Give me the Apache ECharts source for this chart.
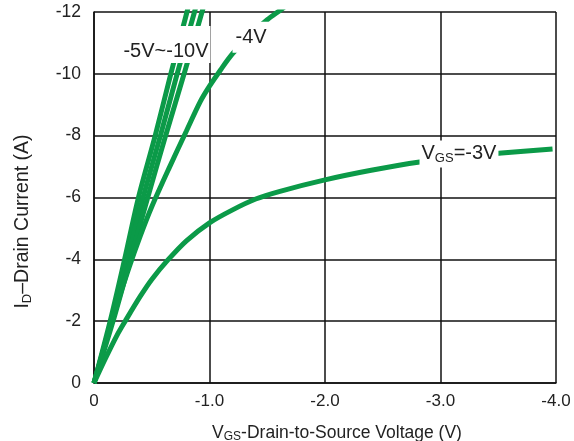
<!DOCTYPE html>
<html><head><meta charset="utf-8">
<script src="https://cdn.jsdelivr.net/npm/echarts@6/dist/echarts.min.js"></script>
<style>html,body{margin:0;padding:0;background:#fff}#c{width:574px;height:441px}</style>
</head><body><div id="c"></div>
<script>
// Output characteristics: [V_DS (V), I_D (A)]
const vgs10 = [[0,0],[-0.14,-2],[-0.265,-4],[-0.385,-6],[-0.53,-8],[-0.665,-10],[-0.805,-12],[-0.83,-12.4]];
const vgs7  = [[0,0],[-0.15,-2],[-0.29,-4],[-0.425,-6],[-0.575,-8],[-0.72,-10],[-0.87,-12],[-0.9,-12.4]];
const vgs5  = [[0,0],[-0.165,-2],[-0.315,-4],[-0.465,-6],[-0.62,-8],[-0.78,-10],[-0.935,-12],[-0.965,-12.4]];
const vgs4  = [[0,0],[-0.1,-1.3],[-0.2,-2.55],[-0.3,-3.7],[-0.4,-4.75],[-0.5,-5.7],[-0.65,-6.95],[-0.8,-8.15],[-0.92,-9.1],[-1.0,-9.6],[-1.1,-10.15],[-1.2,-10.65],[-1.35,-11.25],[-1.5,-11.75],[-1.61,-12.05],[-1.7,-12.3]];
const vgs3  = [[0,0],[-0.1,-0.8],[-0.2,-1.55],[-0.27,-2.0],[-0.4,-2.8],[-0.5,-3.35],[-0.64,-3.98],[-0.8,-4.6],[-1.0,-5.18],[-1.2,-5.6],[-1.4,-5.95],[-1.61,-6.2],[-2.0,-6.57],[-2.4,-6.88],[-2.82,-7.15],[-3.2,-7.32],[-3.53,-7.44],[-3.97,-7.57]];

const curveLabels = ['-5V~-10V', '-4V', 'V{s|GS}=-3V'];
const labelX = [-0.623, -1.36, -3.16];
const labelY = [-10.95, -11.18, -7.41];

const green = '#0b9a48';
const font = "'Liberation Sans', Arial, sans-serif";
const chart = echarts.init(document.getElementById('c'), null, {renderer: 'canvas'});

function curve(name, data) {
  return {
    name, type: 'line', data, smooth: 0.3, showSymbol: false, symbol: 'none',
    lineStyle: {color: green, width: 5}, z: 2, silent: true
  };
}

const richSub = {
  n: {fontSize: 20, fontFamily: font, color: '#222'},
  s: {fontSize: 13, fontFamily: font, color: '#222', padding: [10, 0, 0, 0]}
};
const paddings = [[16, 2, 1, 2], [6, 3, 5, 3], [2, 2, 2, 2]];

chart.setOption({
  animation: false,
  grid: {left: 94, right: 18, top: 12, bottom: 58, containLabel: false, outerBoundsMode: 'none'},
  xAxis: {
    type: 'value', min: -4, max: 0, interval: 1, inverse: true,
    name: 'V{s|GS}-Drain-to-Source Voltage (V)', nameLocation: 'middle', nameGap: 40,
    nameTextStyle: {fontSize: 17.5, fontFamily: font, color: '#222', padding: [0, 0, 0, 24],
      rich: {s: {fontSize: 12, fontFamily: font, color: '#222', padding: [8, 0, 0, 0]}}},
    axisLine: {show: true, lineStyle: {color: '#111', width: 1.5}},
    axisTick: {show: false},
    splitLine: {show: true, lineStyle: {color: '#111', width: 1.5}},
    axisLabel: {fontSize: 17, fontFamily: font, color: '#222', margin: 10,
      formatter: v => v === 0 ? '0' : v.toFixed(1)}
  },
  yAxis: {
    type: 'value', min: -12, max: 0, interval: 2, inverse: true,
    name: 'I{s|D}–Drain Current (A)', nameLocation: 'middle', nameGap: 60,
    nameTextStyle: {fontSize: 19.5, fontFamily: font, color: '#222', padding: [0, 48, 0, 0],
      rich: {s: {fontSize: 13, fontFamily: font, color: '#222', padding: [9, 0, 0, 0]}}},
    axisLine: {show: true, lineStyle: {color: '#111', width: 1.5}},
    axisTick: {show: false},
    splitLine: {show: true, lineStyle: {color: '#111', width: 1.5}},
    axisLabel: {fontSize: 17.5, fontFamily: font, color: '#222', margin: 13,
      formatter: v => String(v)}
  },
  series: [
    curve('-10V', vgs10),
    curve('-7V', vgs7),
    curve('-5V', vgs5),
    curve('-4V', vgs4),
    curve('-3V', vgs3),
    {
      type: 'scatter', z: 5, silent: true, symbolSize: 0,
      itemStyle: {opacity: 1},
      data: curveLabels.map((t, i) => ({
        value: [labelX[i], labelY[i]], name: t,
        label: {padding: paddings[i]}
      })),
      label: {
        show: true, position: 'inside', opacity: 1,
        formatter: p => '{n|' + p.name.replace(/\{s\|GS\}/, '}{s|GS}{n|') + '}',
        backgroundColor: '#ffffff', rich: richSub
      }
    }
  ]
});
</script></body></html>
